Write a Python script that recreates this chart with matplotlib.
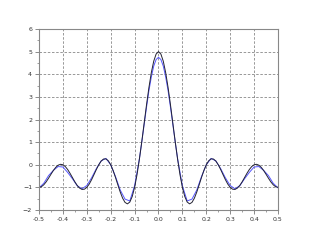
import numpy as np
import matplotlib.pyplot as plt
from matplotlib.ticker import AutoMinorLocator

# half curves for x >= 0, mirrored for negative x
x_ideal = [0.00, 0.01, 0.02, 0.03, 0.04, 0.05, 0.06, 0.07, 0.08, 0.09, 0.10, 0.11, 0.12,
           0.13, 0.14, 0.15, 0.16, 0.17, 0.18, 0.19, 0.20, 0.21, 0.22, 0.23, 0.24, 0.25,
           0.26, 0.27, 0.28, 0.29, 0.30, 0.31, 0.32, 0.33, 0.34, 0.35, 0.36, 0.37, 0.38,
           0.39, 0.40, 0.41, 0.42, 0.43, 0.44, 0.45, 0.46, 0.47, 0.48, 0.49, 0.50]
ideal = [5.0, 4.892, 4.576, 4.073, 3.419, 2.657, 1.838, 1.016, 0.240, -0.444, -1.0,
         -1.405, -1.647, -1.729, -1.665, -1.481, -1.210, -0.890, -0.559, -0.252, 0.0,
         0.175, 0.260, 0.253, 0.161, 0.0, -0.208, -0.437, -0.661, -0.856, -1.0, -1.081,
         -1.091, -1.033, -0.916, -0.755, -0.569, -0.381, -0.212, -0.080, 0.0, 0.020,
         -0.020, -0.116, -0.255, -0.421, -0.594, -0.756, -0.886, -0.971, -1.0]

x_approx = [0.00, 0.01, 0.02, 0.03, 0.04, 0.05, 0.06, 0.07, 0.08, 0.10, 0.12, 0.14, 0.16,
            0.18, 0.20, 0.22, 0.24, 0.26, 0.28, 0.30, 0.32, 0.34, 0.36, 0.38, 0.40, 0.42,
            0.44, 0.46, 0.48, 0.50]
approx = [4.75, 4.65, 4.36, 3.88, 3.28, 2.55, 1.78, 1.0, 0.26, -0.93, -1.60, -1.52, -1.12,
          -0.52, 0.0, 0.28, 0.17, -0.17, -0.58, -0.92, -1.06, -0.93, -0.62, -0.34, -0.10,
          -0.08, -0.25, -0.48, -0.82, -1.02]

def mirror(xs, ys):
    xs = np.array(xs)
    ys = np.array(ys)
    return np.concatenate([-xs[:0:-1], xs]), np.concatenate([ys[:0:-1], ys])

xi, yi = mirror(x_ideal, ideal)
xa, ya = mirror(x_approx, approx)

fig = plt.figure(figsize=(3.18, 2.40), dpi=100)
ax = fig.add_axes([39/318, 30/240, 239/318, 181/240])

ax.plot(xa, ya, color='#5555ff', linewidth=0.7)
ax.plot(xi, yi, color='#222233', linewidth=0.7)

ax.set_xlim(-0.5, 0.5)
ax.set_ylim(-2, 6)
ax.set_xticks(np.arange(-0.5, 0.51, 0.1))
ax.set_xticklabels(['-0.5', '-0.4', '-0.3', '-0.2', '-0.1', '0.0', '0.1', '0.2', '0.3', '0.4', '0.5'])
ax.set_yticks(range(-2, 7))
ax.xaxis.set_minor_locator(AutoMinorLocator(2))
ax.yaxis.set_minor_locator(AutoMinorLocator(2))
ax.tick_params(which='major', length=3, width=0.6, color='#777777', labelsize=4.5,
               labelcolor='#333333', pad=2)
ax.tick_params(which='minor', length=1.5, width=0.5, color='#777777')
ax.grid(True, color='#888888', linestyle=(0, (3, 2)), linewidth=0.6)
for s in ax.spines.values():
    s.set_color('#888888')
    s.set_linewidth(0.8)

plt.savefig('out.png', dpi=100)
